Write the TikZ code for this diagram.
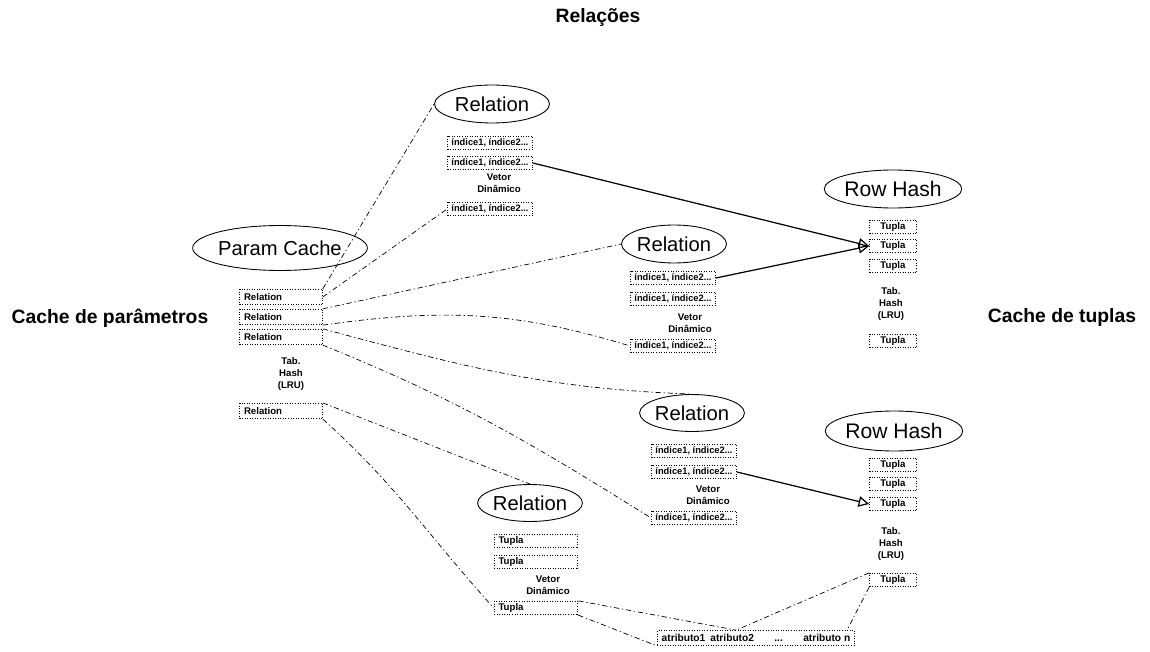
\documentclass[tikz,border=0pt]{standalone}
\usepackage{fontspec}
\setmainfont{Liberation Sans}
\usetikzlibrary{shapes.geometric,arrows.meta,calc}

\begin{document}
\begin{tikzpicture}[
    x=0.02cm, y=-0.02cm,
    title/.style={font=\fontsize{11}{13}\selectfont\bfseries},
    ell/.style={draw, ellipse, inner sep=0pt, line width=0.5pt,
        font=\fontsize{11.5}{12}\selectfont},
    cell/.style={draw, densely dotted, line width=0.45pt, rectangle,
        inner xsep=2.5pt, inner ysep=0pt,
        font=\fontsize{5.5}{6}\selectfont\bfseries},
    relcell/.style={cell, text width=1.48cm, align=left, minimum height=0.31cm},
    idx/.style={cell, minimum width=1.7cm, minimum height=0.27cm, inner xsep=1pt,
        font=\fontsize{5.3}{6}\selectfont\bfseries},
    tup/.style={cell, minimum width=0.94cm, minimum height=0.27cm},
    vtup/.style={cell, text width=1.5cm, align=left, minimum height=0.27cm},
    note/.style={align=center, font=\fontsize{5.5}{6.9}\selectfont\bfseries},
    link/.style={dash pattern=on 3pt off 1.6pt on 0.7pt off 1.6pt, line width=0.4pt},
    ptr/.style={-{Triangle[open, length=6pt, width=6pt]}, line width=0.7pt},
]
\useasboundingbox (0,0) rectangle (1150,652);

% ===== TITLES =====
\node[title] (ttl) at (598,18) {Relações};
\node[title] (lcache) at (110,318) {Cache de parâmetros};
\node[title] (rcache) at (1062,318) {Cache de tuplas};

% ===== PARAM CACHE =====
\node[ell, minimum width=3.1cm, minimum height=0.9cm] (pc) at (280,248) {Param Cache};
\node[relcell] (p1) at (281,297) {Relation};
\node[relcell] (p2) at (281,317) {Relation};
\node[relcell] (p3) at (281,337) {Relation};
\node[note] (pt) at (291,374) {Tab.\\Hash\\(LRU)};
\node[relcell] (p4) at (281,411) {Relation};

% ===== RELATIONS (index vectors) =====
\node[ell, minimum width=2.3cm, minimum height=0.76cm] (r1) at (492,104) {Relation};
\node[idx] (r1a) at (490,143) {índice1, índice2...};
\node[idx] (r1b) at (490,163) {índice1, índice2...};
\node[note] (r1v) at (499,183) {Vetor\\Dinâmico};
\node[idx] (r1c) at (490,209) {índice1, índice2...};

\node[ell, minimum width=2.1cm, minimum height=0.76cm] (r2) at (674,244) {Relation};
\node[idx] (r2a) at (673,278) {índice1, índice2...};
\node[idx] (r2b) at (673,299) {índice1, índice2...};
\node[note] (r2v) at (690,323) {Vetor\\Dinâmico};
\node[idx] (r2c) at (673,346) {índice1, índice2...};

\node[ell, minimum width=2cm, minimum height=0.74cm] (r3) at (692,413) {Relation};
\node[idx] (r3a) at (694,451) {índice1, índice2...};
\node[idx] (r3b) at (694,472) {índice1, índice2...};
\node[note] (r3v) at (708,495) {Vetor\\Dinâmico};
\node[idx] (r3c) at (694,518) {índice1, índice2...};

% ===== RELATION (tuple vector) =====
\node[ell, minimum width=2cm, minimum height=0.74cm] (r4) at (530,503) {Relation};
\node[vtup] (r4a) at (536,541) {Tupla};
\node[vtup] (r4b) at (536,562) {Tupla};
\node[note] (r4v) at (548,585) {Vetor\\Dinâmico};
\node[vtup] (r4c) at (536,608) {Tupla};

% ===== ROW HASH =====
\node[ell, minimum width=2.1cm, minimum height=0.76cm, font=\fontsize{12}{13}\selectfont] (h1) at (893,189) {Row Hash};
\node[tup] (h1a) at (893,227) {Tupla};
\node[tup] (h1b) at (893,246) {Tupla};
\node[tup] (h1c) at (893,266) {Tupla};
\node[note] (h1t) at (891,304) {Tab.\\Hash\\(LRU)};
\node[tup] (h1d) at (893,341) {Tupla};

\node[ell, minimum width=2.05cm, minimum height=0.8cm, font=\fontsize{12}{13}\selectfont] (h2) at (894,431) {Row Hash};
\node[tup] (h2a) at (893,465) {Tupla};
\node[tup] (h2b) at (893,484) {Tupla};
\node[tup] (h2c) at (893,504) {Tupla};
\node[note] (h2t) at (891,544) {Tab.\\Hash\\(LRU)};
\node[tup] (h2d) at (893,580) {Tupla};

% ===== TUPLE CONTENT =====
\node[cell, minimum width=3.84cm, minimum height=0.3cm, font=\fontsize{5.8}{6}\selectfont\bfseries] (atr) at (756,638)
    {atributo1\enspace atributo2\qquad ...\qquad atributo n};

% Param cache entries
\draw[link] (p1.north east) -- (r1.west);
\draw[link] (p1.east) -- (r1c.west);
\draw[link] (p2.north east) -- (r2.west);
\draw[link] (p2.south east) to[out=8, in=163] (r2c.west);
\draw[link] (p3.north east) to[out=-15, in=178] (r3.north);
\draw[link] (p3.south east) to[out=-22, in=148] (r3c.west);
\draw[link] (p4.north east) -- (r4.north);
\draw[link] (p4.south east) to[out=-42, in=132] (r4c.west);

% Tuple expansion
\draw[link] (r4c.north east) -- ($(atr.north)+(-20,0)$);
\draw[link] (r4c.south east) -- (atr.south west);
\draw[link] (h2d.north west) -- ($(atr.north)+(-20,0)$);
\draw[link] (h2d.south west) -- ($(atr.north east)+(-8,0)$);

% Index pointers
\draw[ptr] (r1b.east) -- (h1b.west);
\draw[ptr] (r2a.east) -- (h1b.west);
\draw[ptr] (r3b.east) -- (h2c.west);

\end{tikzpicture}
\end{document}
